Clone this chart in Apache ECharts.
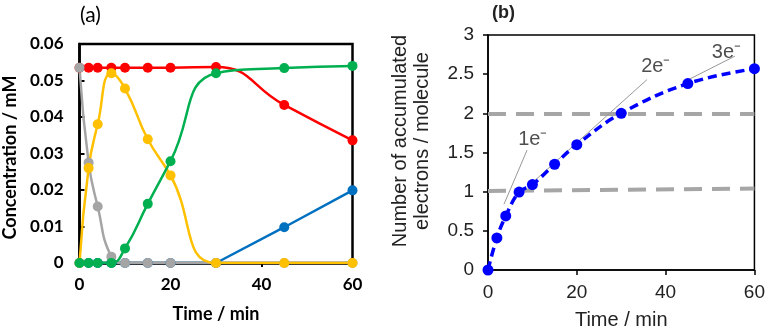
<!DOCTYPE html>
<html>
<head>
<meta charset="utf-8">
<script src="https://cdn.jsdelivr.net/npm/echarts@6/dist/echarts.min.js"></script>
<style>
html,body{margin:0;padding:0;background:#fff;}
#chart{width:768px;height:335px;}
</style>
</head>
<body>
<div id="chart"></div>
<script>
// ---- Panel (a) data ----
var timesA = [0, 2, 4, 7, 10, 15, 20, 30, 45, 60];
var redA    = [0.0535, 0.0535, 0.0535, 0.0535, 0.0535, 0.0535, 0.0535, 0.0537, 0.0433, 0.0336];
var blueA   = [0, 0, 0, 0, 0, 0, 0, 0, 0.0098, 0.0199];
var grayA   = [0.0535, 0.0275, 0.0155, 0.0017, 0, 0, 0, 0, 0, 0];
var yellowA = [0, 0.026, 0.038, 0.052, 0.0478, 0.0339, 0.024, 0, 0, 0];
var greenA  = [0, 0, 0, 0, 0.004, 0.0162, 0.0279, 0.052, 0.0534, 0.054];

// ---- Panel (b) data ----
var timesB = [0, 2, 4, 7, 10, 15, 20, 30, 45, 60];
var electronsB = [0, 0.41, 0.69, 0.995, 1.09, 1.35, 1.60, 2.0, 2.38, 2.57];
var refLine1 = [[0, 1.01], [60, 1.04]];
var refLine2 = [[0, 1.99], [60, 1.99]];
var guide1 = [[3.6, 0.84], [8.8, 1.53]];
var guide2 = [[10.1, 1.12], [35.8, 2.43]];
var guide3 = [[44.1, 2.40], [55.6, 2.73]];
var labelX = [10.1, 37.8, 53.7];
var labelY = [1.66, 2.6, 2.78];
var labelText = ['1e\u207B', '2e\u207B', '3e\u207B'];

function pairs(xs, ys) { return xs.map(function (x, i) { return [x, ys[i]]; }); }

var chart = echarts.init(document.getElementById('chart'), null, {renderer: 'canvas'});

var boldFont = 'Lato';
var armFont = 'Liberation Sans';

function seriesA(name, color, ys, smooth) {
  return {
    name: name, type: 'line', xAxisIndex: 0, yAxisIndex: 0,
    data: pairs(timesA, ys), smooth: smooth,
    symbol: 'circle', symbolSize: 10,
    lineStyle: {color: color, width: 2.5},
    itemStyle: {color: color},
    emphasis: {disabled: true}
  };
}

var option = {
  animation: false,
  backgroundColor: '#fff',
  grid: [
    {left: 79.5, top: 44, width: 273, height: 219, show: true, borderColor: '#000', borderWidth: 2.5, backgroundColor: 'transparent'},
    {left: 488, top: 35, width: 267, height: 238, show: true, borderColor: '#000', borderWidth: 1.5, backgroundColor: 'transparent'}
  ],
  xAxis: [
    {
      gridIndex: 0, type: 'value', min: 0, max: 60, interval: 20,
      name: 'Time / min', nameLocation: 'middle', nameGap: 42,
      nameTextStyle: {fontFamily: boldFont, fontWeight: 'bold', fontSize: 18, color: '#000'},
      axisLine: {lineStyle: {color: '#000', width: 2.5}},
      axisTick: {show: true, inside: false, length: 4, lineStyle: {color: '#000', width: 2}},
      axisLabel: {fontFamily: boldFont, fontWeight: 'bold', fontSize: 17, color: '#000', margin: 13},
      splitLine: {show: false}
    },
    {
      gridIndex: 1, type: 'value', min: 0, max: 60, interval: 20,
      name: 'Time / min', nameLocation: 'middle', nameGap: 40,
      nameTextStyle: {fontFamily: armFont, fontSize: 20, color: '#222'},
      axisLine: {lineStyle: {color: '#000', width: 1.5}},
      axisTick: {show: true, inside: false, length: 5, lineStyle: {color: '#000', width: 1.5}},
      axisLabel: {fontFamily: armFont, fontSize: 19, color: '#222', margin: 13},
      splitLine: {show: false}
    }
  ],
  yAxis: [
    {
      gridIndex: 0, type: 'value', min: 0, max: 0.06, interval: 0.01,
      name: 'Concentration / mM', nameLocation: 'middle', nameGap: 60, nameRotate: 90,
      nameTextStyle: {fontFamily: boldFont, fontWeight: 'bold', fontSize: 18, color: '#000', padding: [0, 0, 0, -8]},
      axisLine: {lineStyle: {color: '#000', width: 2.5}},
      axisTick: {show: true, inside: true, length: 5, lineStyle: {color: '#000', width: 2}},
      axisLabel: {fontFamily: boldFont, fontWeight: 'bold', fontSize: 17, color: '#000', margin: 16},
      splitLine: {show: false}
    },
    {
      gridIndex: 1, type: 'value', min: 0, max: 3, interval: 0.5,
      axisLine: {lineStyle: {color: '#000', width: 1.5}},
      axisTick: {show: true, inside: false, length: 5, lineStyle: {color: '#000', width: 1.5}},
      axisLabel: {fontFamily: armFont, fontSize: 19, color: '#222', margin: 14},
      splitLine: {show: false}
    }
  ],
  graphic: [
    {type: 'text', left: 80, top: 5, style: {text: '(a)', font: '21px Lato', fill: '#000'}},
    {type: 'text', left: 492, top: 4, style: {text: '(b)', font: 'bold 18px "Liberation Sans"', fill: '#222'}},
    {type: 'text', x: 411, y: 141, rotation: Math.PI / 2,
     style: {text: 'Number of accumulated\nelectrons / molecule', font: '20px "Liberation Sans"', fill: '#222',
             textAlign: 'center', textVerticalAlign: 'middle', lineHeight: 22}}
  ],
  series: [
    seriesA('red', '#FF0000', redA, 0.5),
    seriesA('blue', '#0070C0', blueA, false),
    seriesA('gray', '#A5A5A5', grayA, 0.5),
    seriesA('yellow', '#FFC000', yellowA, 0.5),
    seriesA('green', '#00B050', greenA, 0.5),
    {
      type: 'line', xAxisIndex: 1, yAxisIndex: 1, data: refLine1, symbol: 'none',
      lineStyle: {color: '#A6A6A6', width: 4, type: [18, 10]}, emphasis: {disabled: true}
    },
    {
      type: 'line', xAxisIndex: 1, yAxisIndex: 1, data: refLine2, symbol: 'none',
      lineStyle: {color: '#A6A6A6', width: 4, type: [18, 10]}, emphasis: {disabled: true}
    },
    {
      type: 'line', xAxisIndex: 1, yAxisIndex: 1, data: guide1, symbol: 'none',
      lineStyle: {color: '#999', width: 1}, emphasis: {disabled: true}
    },
    {
      type: 'line', xAxisIndex: 1, yAxisIndex: 1, data: guide2, symbol: 'none',
      lineStyle: {color: '#999', width: 1}, emphasis: {disabled: true}
    },
    {
      type: 'line', xAxisIndex: 1, yAxisIndex: 1, data: guide3, symbol: 'none',
      lineStyle: {color: '#999', width: 1}, emphasis: {disabled: true}
    },
    {
      type: 'line', xAxisIndex: 1, yAxisIndex: 1, data: pairs(timesB, electronsB),
      smooth: 0.4, symbol: 'circle', symbolSize: 11,
      lineStyle: {color: '#0000FF', width: 3.5, type: [9, 5]},
      itemStyle: {color: '#0000FF'}, emphasis: {disabled: true}
    },
    {
      type: 'scatter', xAxisIndex: 1, yAxisIndex: 1, symbolSize: 0,
      data: labelX.map(function (x, i) { return {value: [x, labelY[i]], name: labelText[i]}; }),
      label: {show: true, position: 'inside', formatter: '{b}', fontFamily: armFont, fontSize: 20, color: '#222'},
      emphasis: {disabled: true}
    }
  ]
};
chart.setOption(option);
</script>
</body>
</html>
